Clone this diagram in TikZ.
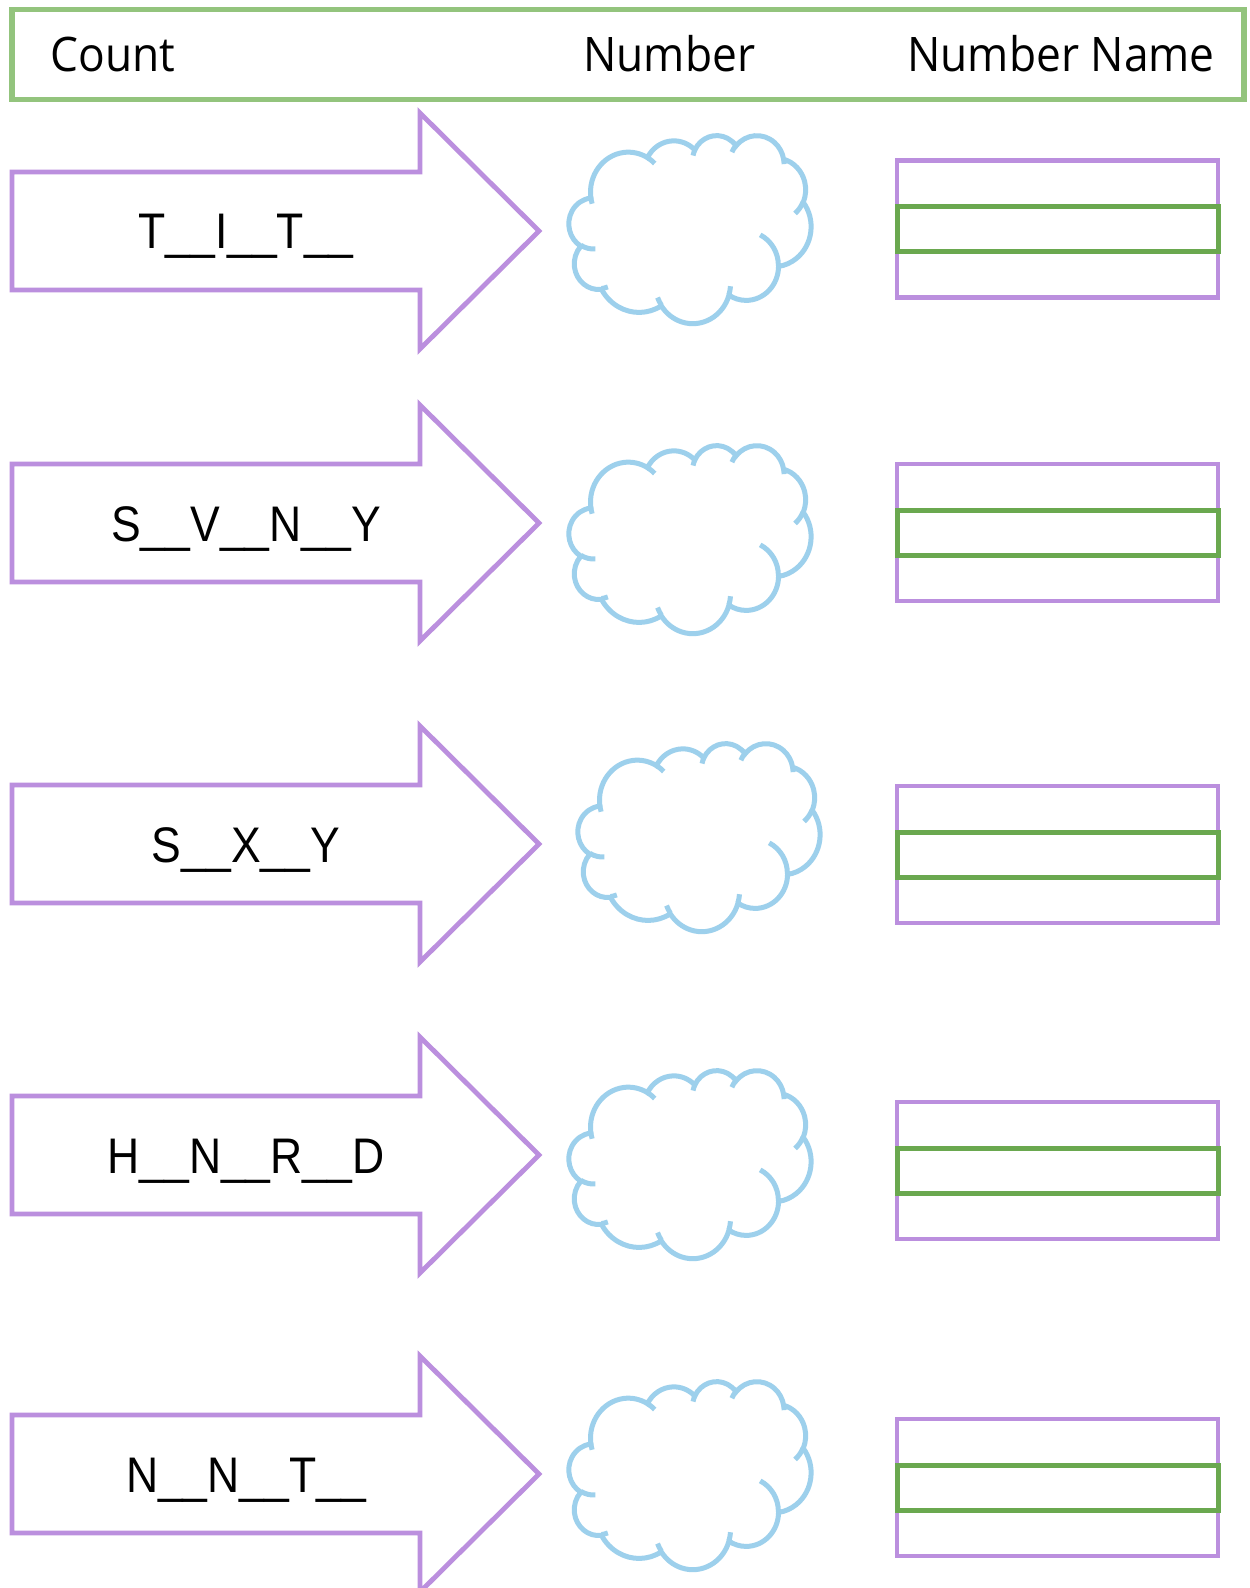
\documentclass[tikz,border=0pt]{standalone}
\usepackage{fontspec}
\newfontfamily\headfont[FakeStretch=0.93]{Open Sans}
\newfontfamily\lblfont[FakeStretch=0.89]{Liberation Sans}
\definecolor{hgreen}{RGB}{147,196,125}
\definecolor{purp}{RGB}{187,143,222}
\definecolor{dgreen}{RGB}{106,168,79}
\definecolor{cblue}{RGB}{157,208,236}
\tikzset{
  ca/.style n args={4}{insert path={arc[x radius=#1, y radius=#2,
      start angle={atan2(#1*sin(#3),#2*cos(#3))},
      delta angle={mod(atan2(#1*sin(#3+#4),#2*cos(#3+#4))-atan2(#1*sin(#3),#2*cos(#3))+720,360)}]}},
  cloudline/.style={draw=cblue, line width=2.5pt},
  arrowline/.style={draw=purp, line width=2.4pt, line join=miter},
  outerbox/.style={draw=purp, line width=2.4pt},
  innerbox/.style={draw=dgreen, line width=2.5pt},
  headtext/.style={font=\headfont\fontsize{23.8}{28}\selectfont, anchor=base west, inner sep=0pt},
  lbltext/.style={font=\lblfont\fontsize{25}{30}\selectfont, anchor=base, inner sep=0pt},
}
\newcommand\cloudshape{%
  \draw[cloudline] (39.00,143.70)
    [ca={67.53}{91.90}{-190.4875}{123.7805}]
    [ca={53.33}{72.67}{-144.1024}{89.9452}]
    [ca={43.65}{59.45}{-145.8079}{99.7230}]
    [ca={48.57}{65.95}{-130.9861}{117.2417}]
    [ca={53.33}{72.73}{-78.7089}{109.0269}]
    [ca={67.75}{92.20}{-46.2673}{130.2690}]
    [ca={57.85}{78.67}{0.6250}{114.0333}]
    [ca={67.52}{92.15}{22.4516}{115.1726}]
    [ca={77.20}{105.43}{66.2426}{75.7110}]
    [ca={43.60}{59.18}{-274.9421}{146.7356}]
    [ca={43.45}{59.45}{-246.8285}{152.5195}] -- cycle;
  \draw[cloudline]
    (46.93,261.77) [ca={43.45}{59.45}{86.7420}{26.4295}]
    (69.28,348.99) [ca={43.60}{59.18}{73.6105}{11.4475}]
    (164.78,390.90) [ca={67.52}{92.15}{137.6242}{14.0811}]
    (288.27,347.51) [ca={67.52}{92.15}{6.4533}{15.9984}]
    (341.29,229.54) [ca={57.85}{78.67}{-70.2924}{70.9174}]
    (417.98,153.54) [ca={53.33}{72.73}{30.3180}{27.7515}]
    (383.24,54.26) [ca={48.57}{65.95}{-13.7443}{14.8589}]
    (290.78,39.52) [ca={48.57}{65.95}{-149.1815}{18.1954}]
    (221.41,47.20) [ca={43.65}{59.45}{-163.4943}{17.6840}]
    (140.00,51.92) [ca={67.53}{91.90}{-66.7070}{12.3194}]
    (41.27,157.89) [ca={67.53}{91.90}{157.6544}{11.8582}];
}
\newcommand\cloudat[2]{%
  \begin{scope}[shift={(#1,#2)}, x=0.280093pt, y=-0.217593pt]
    \cloudshape
  \end{scope}}
\newcommand\arrowrow[1]{%
  \draw[arrowline] (12,#1-59) -- (420,#1-59) -- (420,#1-118) -- (539,#1)
    -- (420,#1+118) -- (420,#1+59) -- (12,#1+59) -- cycle;}
\newcommand\namebox[1]{%
  \draw[outerbox] (897,#1) rectangle (1218,#1+137);
  \draw[innerbox] (897,#1+46) rectangle (1218,#1+91);}
\begin{document}
\begin{tikzpicture}[x=0.5pt, y=-0.5pt]
\useasboundingbox (0,0) rectangle (1249,1588);
\fill[white] (0,0) rectangle (1249,1588);
% header
\draw[draw=hgreen, line width=2.6pt] (12,9.5) rectangle (1244,99.5);
\node[headtext] (hcount) at (50,72) {Count};
\node[headtext] (hnumber) at (583,72) {Number};
\node[headtext] (hname) at (907,72) {Number Name};
% arrows
\arrowrow{231}
\arrowrow{523}
\arrowrow{844}
\arrowrow{1155}
\arrowrow{1474}
\node[lbltext] (w1) at (246,249) {T\_\_I\_\_T\_\_};
\node[lbltext] (w2) at (246,541) {S\_\_V\_\_N\_\_Y};
\node[lbltext] (w3) at (246,862) {S\_\_X\_\_Y};
\node[lbltext] (w4) at (246,1173) {H\_\_N\_\_R\_\_D};
\node[lbltext] (w5) at (246,1492) {N\_\_N\_\_T\_\_};
% clouds
\cloudat{569}{135}
\cloudat{569}{445}
\cloudat{578}{743}
\cloudat{569}{1070}
\cloudat{569}{1381}
% name boxes
\namebox{160.5}
\namebox{464}
\namebox{786}
\namebox{1102}
\namebox{1419}
\end{tikzpicture}
\end{document}
